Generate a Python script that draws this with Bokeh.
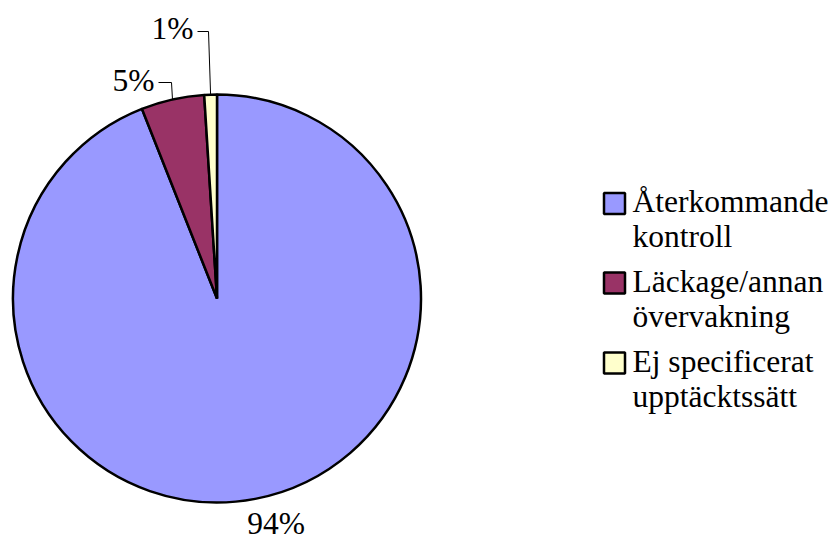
import math

from bokeh.core.properties import value
from bokeh.embed import file_html
from bokeh.models import ColumnDataSource, Range1d
from bokeh.plotting import figure
from bokeh.resources import INLINE

# Detection method shares (percent)
categories = ["Återkommande\nkontroll", "Läckage/annan\növervakning", "Ej specificerat\nupptäcktssätt"]
shares = [94, 5, 1]
pct_labels = ["94%", "5%", "1%"]
colors = ["#9999FF", "#993366", "#FFFFCC"]

W, H = 833, 543
FONT = value("Liberation Serif")
FSIZE = "31.5px"
TEXT_SHIFT = 12  # the svg backend draws alphabetic text a little low

# Pie geometry in page pixels (y measured from the top)
CX, CY_TOP, R = 216.5, 298.0, 204.0


def yy(px_from_top):
    return H - px_from_top


def ty(baseline_from_top):
    return H - (baseline_from_top - TEXT_SHIFT)


p = figure(width=W, height=H, output_backend="svg", toolbar_location=None,
           x_range=Range1d(0, W), y_range=Range1d(0, H), min_border=0)
p.axis.visible = False
p.grid.visible = False
p.outline_line_color = None
p.background_fill_color = "white"
p.border_fill_color = "white"

# Slices run clockwise from 12 o'clock
total = float(sum(shares))
starts, ends, mids = [], [], []
cum = 0.0
for s in shares:
    a0 = math.pi / 2 - 2 * math.pi * cum / total
    cum += s
    a1 = math.pi / 2 - 2 * math.pi * cum / total
    starts.append(a1)
    ends.append(a0)
    mids.append((a0 + a1) / 2)

src = ColumnDataSource(dict(start=starts, end=ends, color=colors))
p.wedge(x=CX, y=yy(CY_TOP), radius=R, start_angle="start", end_angle="end",
        fill_color="color", line_color="black", line_width=2.5, source=src)

# Percentage labels; the two small slices get elbow leader lines
label_pos = [(275.5, 535), (133, 92), (172, 40)]      # text anchor (centre, baseline)
leaders = [None, (171, 82, 158), (208, 31, 197)]      # elbow x, elbow y, end x
for i, txt in enumerate(pct_labels):
    lx, ly = label_pos[i]
    p.text(x=[lx], y=[ty(ly)], text=[txt], text_font=FONT, text_font_size=FSIZE,
           text_align="center", text_baseline="alphabetic", text_color="black")
    if leaders[i] is not None:
        ex, ey, endx = leaders[i]
        ax = CX + R * math.cos(mids[i])
        ay = yy(CY_TOP) + R * math.sin(mids[i])
        p.line(x=[ax, ex, endx], y=[ay, yy(ey), yy(ey)], line_color="black", line_width=1)

# Legend drawn as swatches and two-line captions
sw_x, sw_size = 614, 21
sw_centers = [203, 282.5, 362.5]
for i, cat in enumerate(categories):
    cy = sw_centers[i]
    p.rect(x=[sw_x], y=[yy(cy)], width=sw_size, height=sw_size, fill_color=colors[i],
           line_color="black", line_width=2.5)
    for j, line in enumerate(cat.split("\n")):
        p.text(x=[632], y=[ty(cy + 10 + 35 * j)], text=[line], text_font=FONT,
               text_font_size=FSIZE, text_align="left", text_baseline="alphabetic",
               text_color="black")

open("out.html", "w").write(file_html(p, INLINE))
